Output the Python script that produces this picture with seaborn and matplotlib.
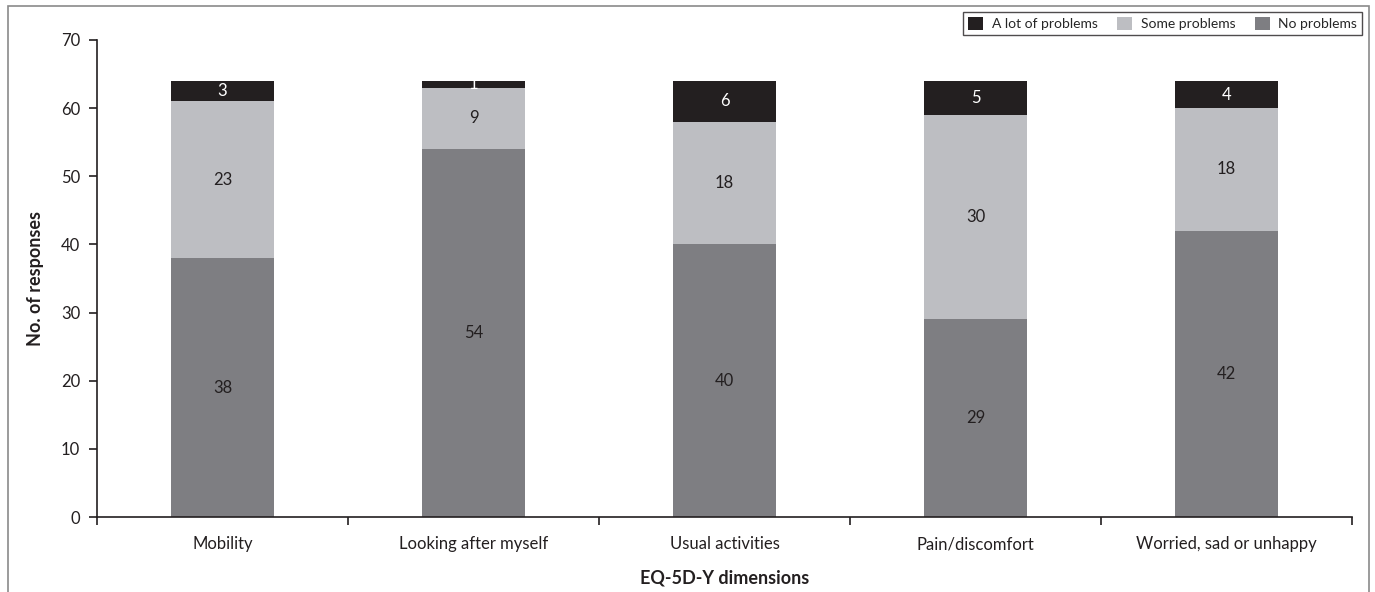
import matplotlib
matplotlib.use("Agg")
import matplotlib.pyplot as plt
import seaborn as sns
import pandas as pd
import numpy as np
from matplotlib.patches import Patch, Rectangle
from matplotlib.ticker import FixedLocator

categories = ["Mobility", "Looking after myself", "Usual activities",
              "Pain/discomfort", "Worried, sad or unhappy"]
no_problems = [38, 54, 40, 29, 42]
some_problems = [23, 9, 18, 30, 18]
lot_problems = [3, 1, 6, 5, 4]
series_names = ["No problems", "Some problems", "A lot of problems"]
colors = {"No problems": "#7e7e82", "Some problems": "#bdbec2",
          "A lot of problems": "#231f20"}

sns.set_theme(style="white")
plt.rcParams['font.family'] = ['Lato', 'DejaVu Sans']

fig = plt.figure(figsize=(13.75, 5.92), dpi=100)
ax = fig.add_axes([97/1375, 1-517/592, (1352-97)/1375, (517-40)/592])

no = np.array(no_problems)
some = np.array(some_problems)
lot = np.array(lot_problems)
cum1 = no
cum2 = no + some
cum3 = no + some + lot

df = pd.DataFrame({"cat": categories, "c1": cum1, "c2": cum2, "c3": cum3})
w = 0.41
sns.barplot(data=df, x="cat", y="c3", color=colors["A lot of problems"], width=w,
            saturation=1, ax=ax, linewidth=0)
sns.barplot(data=df, x="cat", y="c2", color=colors["Some problems"], width=w,
            saturation=1, ax=ax, linewidth=0)
sns.barplot(data=df, x="cat", y="c1", color=colors["No problems"], width=w,
            saturation=1, ax=ax, linewidth=0)

fs = 12
for i in range(len(categories)):
    ax.text(i, no[i]/2, str(no[i]), ha="center", va="center", fontsize=fs, color="#231f20")
    ax.text(i, cum1[i] + some[i]/2, str(some[i]), ha="center", va="center", fontsize=fs, color="#231f20")
    ax.text(i, cum2[i] + lot[i]/2, str(lot[i]), ha="center", va="center", fontsize=fs, color="white")

ax.set_xlim(-0.5, len(categories)-0.5)
ax.set_ylim(0, 70)
ax.set_yticks(range(0, 71, 10))
ax.set_xticks(range(len(categories)))
ax.set_xticklabels(categories)
ax.xaxis.set_minor_locator(FixedLocator(np.arange(-0.5, len(categories), 1.0)))
ax.tick_params(axis="x", which="major", length=0, labelsize=fs, pad=14, colors="#231f20")
ax.tick_params(axis="x", which="minor", length=6, width=1.2, direction="out", bottom=True, color="#231f20")
ax.tick_params(axis="y", which="major", length=6, width=1.2, direction="out", left=True,
               labelsize=fs, pad=6, colors="#231f20")
for s in ["top", "right"]:
    ax.spines[s].set_visible(False)
for s in ["left", "bottom"]:
    ax.spines[s].set_color("#231f20")
    ax.spines[s].set_linewidth(1.2)
ax.set_xlabel("EQ-5D-Y dimensions", fontsize=13, fontweight="bold", color="#231f20", labelpad=12)
ax.set_ylabel("No. of responses", fontsize=13, fontweight="bold", color="#231f20", labelpad=12)

handles = [Patch(facecolor=colors[n], edgecolor="none", label=n)
           for n in ["A lot of problems", "Some problems", "No problems"]]
leg = fig.legend(handles=handles, loc="upper right", bbox_to_anchor=(1362/1375, 1-12/592),
                 ncol=3, frameon=True, fontsize=10, handlelength=1.1, handleheight=1.1,
                 handletextpad=0.6, columnspacing=1.4, borderpad=0.35, fancybox=False,
                 borderaxespad=0)
leg.get_frame().set_edgecolor("#231f20")
leg.get_frame().set_linewidth(1.0)

border = Rectangle((8/1375, -0.05), (1369-8)/1375, (1-6/592)+0.05, transform=fig.transFigure,
                   fill=False, edgecolor="#8a8a8a", linewidth=1.2, clip_on=False)
fig.patches.append(border)

fig.savefig("out.png", dpi=100)
